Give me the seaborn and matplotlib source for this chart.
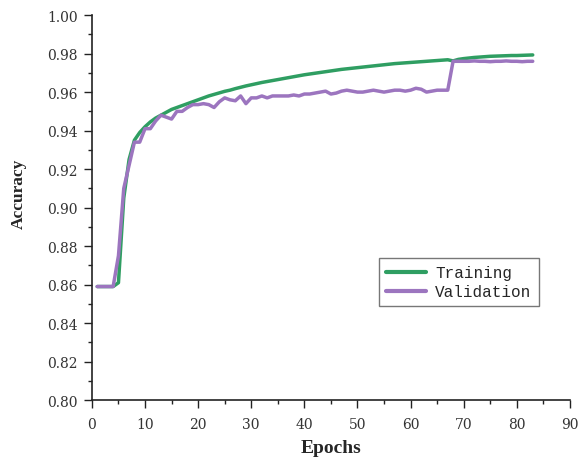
import numpy as np
import pandas as pd
import seaborn as sns
import matplotlib.pyplot as plt
from matplotlib.ticker import MultipleLocator, FormatStrFormatter

# values
epochs = list(range(1, 84))

training = [
    0.859, 0.859, 0.859, 0.859, 0.861, 0.905, 0.925, 0.935, 0.939, 0.942,
    0.9445, 0.9465, 0.948, 0.9495, 0.951, 0.952, 0.953, 0.954, 0.955, 0.956,
    0.957, 0.958, 0.9588, 0.9596, 0.9604, 0.961, 0.9618, 0.9625, 0.9632, 0.9638,
    0.9644, 0.965, 0.9655, 0.966, 0.9665, 0.967, 0.9675, 0.968, 0.9685, 0.969,
    0.9694, 0.9698, 0.9702, 0.9706, 0.971, 0.9714, 0.9718, 0.9721, 0.9724, 0.9727,
    0.973, 0.9733, 0.9736, 0.9739, 0.9742, 0.9745, 0.9748, 0.975, 0.9752, 0.9754,
    0.9756, 0.9758, 0.976, 0.9762, 0.9764, 0.9766, 0.9768, 0.9762, 0.977, 0.9774,
    0.9777, 0.978, 0.9782, 0.9784, 0.9786, 0.9787, 0.9788, 0.9789, 0.979, 0.979,
    0.9791, 0.9792, 0.9793,
]

validation = [
    0.859, 0.859, 0.859, 0.859, 0.875, 0.910, 0.922, 0.934, 0.934, 0.941,
    0.941, 0.945, 0.948, 0.947, 0.946, 0.950, 0.950, 0.952, 0.9535, 0.9535,
    0.954, 0.9535, 0.952, 0.955, 0.957, 0.956, 0.9555, 0.958, 0.954, 0.957,
    0.957, 0.958, 0.957, 0.958, 0.958, 0.958, 0.958, 0.9585, 0.958, 0.959,
    0.959, 0.9595, 0.960, 0.9605, 0.959, 0.9595, 0.9605, 0.961, 0.9605, 0.960,
    0.960, 0.9605, 0.961, 0.9605, 0.960, 0.9605, 0.961, 0.961, 0.9605, 0.961,
    0.962, 0.9615, 0.960, 0.9605, 0.961, 0.961, 0.961, 0.976, 0.976, 0.976,
    0.976, 0.9762, 0.976, 0.976, 0.9758, 0.976, 0.976, 0.9762, 0.976, 0.976,
    0.9758, 0.976, 0.976,
]

df = pd.DataFrame({
    "Epochs": epochs * 2,
    "Accuracy": training + validation,
    "set": ["Training"] * len(epochs) + ["Validation"] * len(epochs),
})

sns.set_style("ticks")
fig = plt.figure(figsize=(5.78, 4.6), dpi=100)
ax = fig.add_axes([0.159, 0.128, 0.827, 0.837])

sns.lineplot(data=df, x="Epochs", y="Accuracy", hue="set",
             palette=["#2f9e62", "#9c75bf"], linewidth=2.5, ax=ax)

ax.set_xlim(0, 90)
ax.set_ylim(0.80, 1.00)
ax.xaxis.set_major_locator(MultipleLocator(10))
ax.xaxis.set_minor_locator(MultipleLocator(5))
ax.yaxis.set_major_locator(MultipleLocator(0.02))
ax.yaxis.set_minor_locator(MultipleLocator(0.01))
ax.yaxis.set_major_formatter(FormatStrFormatter("%.2f"))
ax.tick_params(which="major", direction="out", length=6, width=1, colors="#222222",
               labelsize=10, labelcolor="#333333")
ax.tick_params(axis="y", which="major", pad=4)
ax.tick_params(axis="x", which="major", pad=6)
ax.tick_params(which="minor", direction="out", length=3, width=1, colors="#222222")
for lab in ax.get_xticklabels() + ax.get_yticklabels():
    lab.set_family("DejaVu Serif")

for s in ["top", "right"]:
    ax.spines[s].set_visible(False)
for s in ["left", "bottom"]:
    ax.spines[s].set_color("#222222")
    ax.spines[s].set_linewidth(1.2)

ax.set_xlabel("Epochs", fontsize=14, fontweight="bold", family="Liberation Serif")
ax.set_ylabel("Accuracy", fontsize=12.5, fontweight="bold", family="Liberation Serif")
ax.xaxis.set_label_coords(0.5, -0.102)
ax.yaxis.set_label_coords(-0.137, 0.538)

leg = ax.legend(loc="upper left", bbox_to_anchor=(0.600, 0.369), frameon=True,
                fancybox=False, handlelength=2.5, handletextpad=0.6,
                borderpad=0.45, borderaxespad=0, labelspacing=0.25,
                prop={"family": "Liberation Mono", "size": 11.5})
leg.get_frame().set_edgecolor("#555555")
leg.get_frame().set_linewidth(1.0)
for line in leg.get_lines():
    line.set_linewidth(3)

fig.savefig("out.png", dpi=100)
